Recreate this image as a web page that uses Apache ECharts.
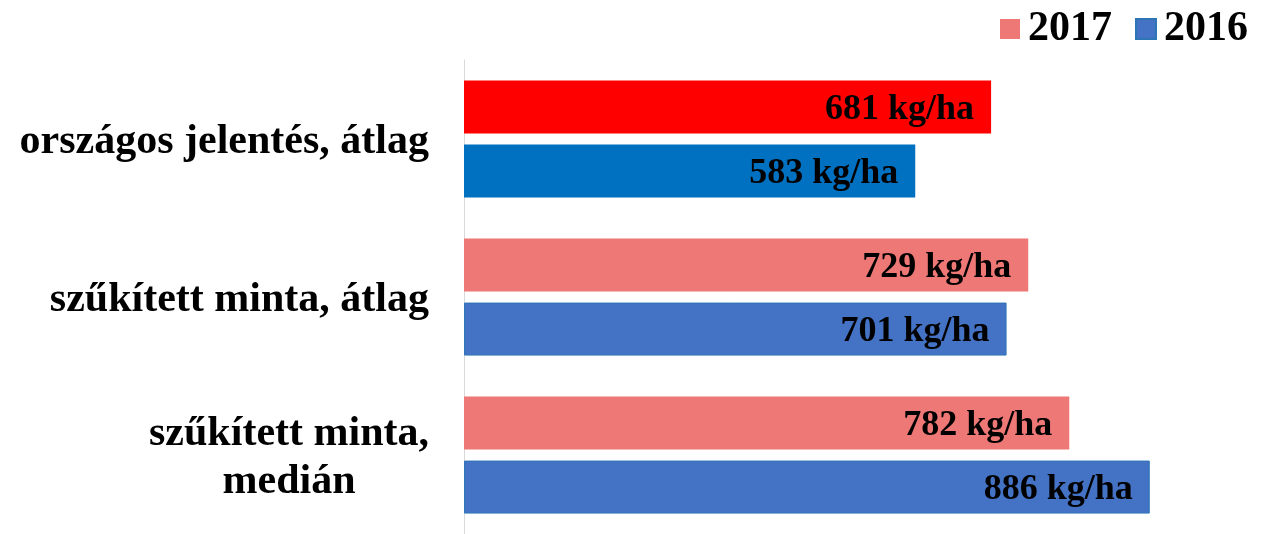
<!DOCTYPE html>
<html>
<head>
<meta charset="utf-8">
<script src="https://cdn.jsdelivr.net/npm/echarts@6/dist/echarts.min.js"></script>
<style>
  html, body { margin: 0; padding: 0; background: #fff; }
  #chart { width: 1262px; height: 534px; }
</style>
</head>
<body>
<div id="chart"></div>
<script>
const categories = ['országos jelentés, átlag', 'szűkített minta, átlag', 'szűkített minta,\nmedián']
const seriesNames = ['2017', '2016']
const values2017 = [681, 729, 782]
const values2016 = [583, 701, 886]
const unit = ' kg/ha'

const serif = '"Liberation Serif", "Times New Roman", serif'
const myChart = echarts.init(document.getElementById('chart'))

// first category is highlighted with stronger colours
const data2017 = values2017.map((v, i) => i === 0 ? { value: v, itemStyle: { color: '#FF0000' } } : v)
const data2016 = values2016.map((v, i) => i === 0 ? { value: v, itemStyle: { color: '#0070C0', borderWidth: 0 } } : v)

const barLabel = {
    show: true,
    position: 'insideRight',
    distance: 17,
    offset: [0, 3],
    fontFamily: serif,
    fontWeight: 'bold',
    fontSize: 36,
    color: '#000',
    formatter: p => p.value + unit
}

const option = {
    animation: false,
    legend: {
        data: seriesNames,
        right: 9,
        top: 3,
        itemWidth: 20,
        itemHeight: 20,
        itemGap: 23,
        icon: 'rect',
        textStyle: { fontFamily: serif, fontWeight: 'bold', fontSize: 42, color: '#000', padding: [0, 0, 0, 3] }
    },
    grid: { left: 464, right: 24, top: 60, height: 485 },
    xAxis: {
        type: 'value',
        min: 0,
        max: 1000,
        show: false
    },
    yAxis: {
        type: 'category',
        inverse: true,
        data: categories,
        axisLine: { show: true, lineStyle: { color: '#D9D9D9', width: 1 } },
        axisTick: { show: false },
        axisLabel: {
            margin: 35,
            formatter: v => v.split('\n').map(l => '{c|' + l + '}').join('\n'),
            rich: {
                c: { align: 'center', fontFamily: serif, fontWeight: 'bold', fontSize: 42, color: '#000', lineHeight: 48, padding: [6, 0, 0, 0] }
            }
        }
    },
    series: [
        {
            name: '2017',
            type: 'bar',
            barWidth: 53,
            barGap: '21%',
            itemStyle: { color: '#EE7875' },
            label: barLabel,
            data: data2017
        },
        {
            name: '2016',
            type: 'bar',
            barWidth: 53,
            barGap: '21%',
            itemStyle: { color: '#4472C4', borderColor: '#2E75B6', borderWidth: 1 },
            label: barLabel,
            data: data2016
        }
    ]
}
myChart.setOption(option)
</script>
</body>
</html>
